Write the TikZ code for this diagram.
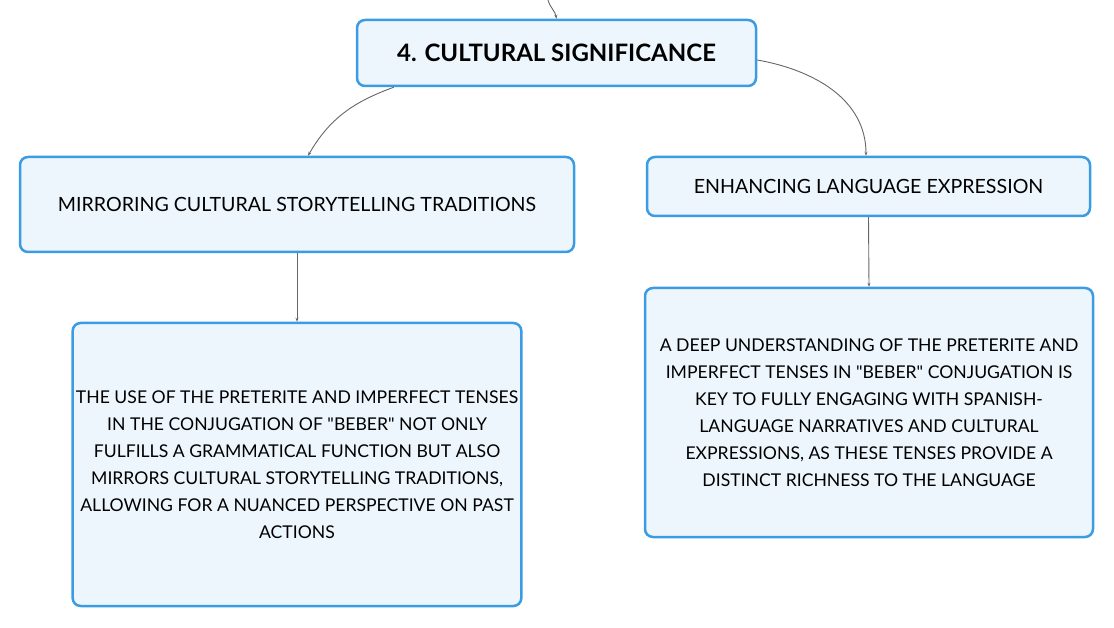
\documentclass[tikz,border=0pt]{standalone}
\usepackage{fontspec}
\setmainfont{Lato}
\usetikzlibrary{arrows.meta}
\definecolor{boxblue}{HTML}{3B9BE3}
\definecolor{boxfill}{HTML}{EEF6FD}
\definecolor{linkgray}{HTML}{666666}
\newcommand{\qq}{\textquotedbl}
\begin{document}
\begin{tikzpicture}[
  x=1pt,y=1pt,
  box/.style={draw=boxblue,fill=boxfill,line width=2.5pt,rounded corners=8pt,align=center,font=\fontsize{17.6}{27}\selectfont},
  head/.style={font=\fontsize{19.6}{24}\selectfont},
  link/.style={linkgray,line width=0.9pt,-{Stealth[length=4pt,width=3pt]}},
]
  \useasboundingbox (0,0) rectangle (1114,627);

  \node[box,minimum width=399pt,minimum height=66pt,font=\fontsize{24}{28}\selectfont\bfseries] (cult) at (556.5,574) {4. CULTURAL SIGNIFICANCE};
  \node[box,head,minimum width=554pt,minimum height=95pt] (mirror) at (297,422.5) {MIRRORING CULTURAL STORYTELLING TRADITIONS};
  \node[box,head,minimum width=443pt,minimum height=59pt] (enhance) at (868.5,440.5) {ENHANCING LANGUAGE EXPRESSION};
  %
  \node[box,minimum width=448pt,minimum height=283pt] (mirrortxt) at (297,162.5) {THE USE OF THE PRETERITE AND IMPERFECT TENSES\\IN THE CONJUGATION OF \qq BEBER\qq{} NOT ONLY\\FULFILLS A GRAMMATICAL FUNCTION BUT ALSO\\MIRRORS CULTURAL STORYTELLING TRADITIONS,\\ALLOWING FOR A NUANCED PERSPECTIVE ON PAST\\ACTIONS};
  \node[box,minimum width=448pt,minimum height=249pt] (enhancetxt) at (869,214.5) {A DEEP UNDERSTANDING OF THE PRETERITE AND\\IMPERFECT TENSES IN \qq BEBER\qq{} CONJUGATION IS\\KEY TO FULLY ENGAGING WITH SPANISH-\\LANGUAGE NARRATIVES AND CULTURAL\\EXPRESSIONS, AS THESE TENSES PROVIDE A\\DISTINCT RICHNESS TO THE LANGUAGE};

  \coordinate (from) at (548,627);
  \draw[link] (from) to[out=-75,in=100] (cult.north);
  \draw[link] ([xshift=38pt]cult.south west) to[out=200,in=60] ([xshift=11pt]mirror.north);
  \draw[link] ([yshift=-7pt]cult.east) to[out=-10,in=90] ([xshift=-2.5pt]enhance.north);
  \draw[link] (mirror.south) -- (mirrortxt.north);
  \draw[link] (enhance.south) -- (enhancetxt.north);
\end{tikzpicture}
\end{document}
